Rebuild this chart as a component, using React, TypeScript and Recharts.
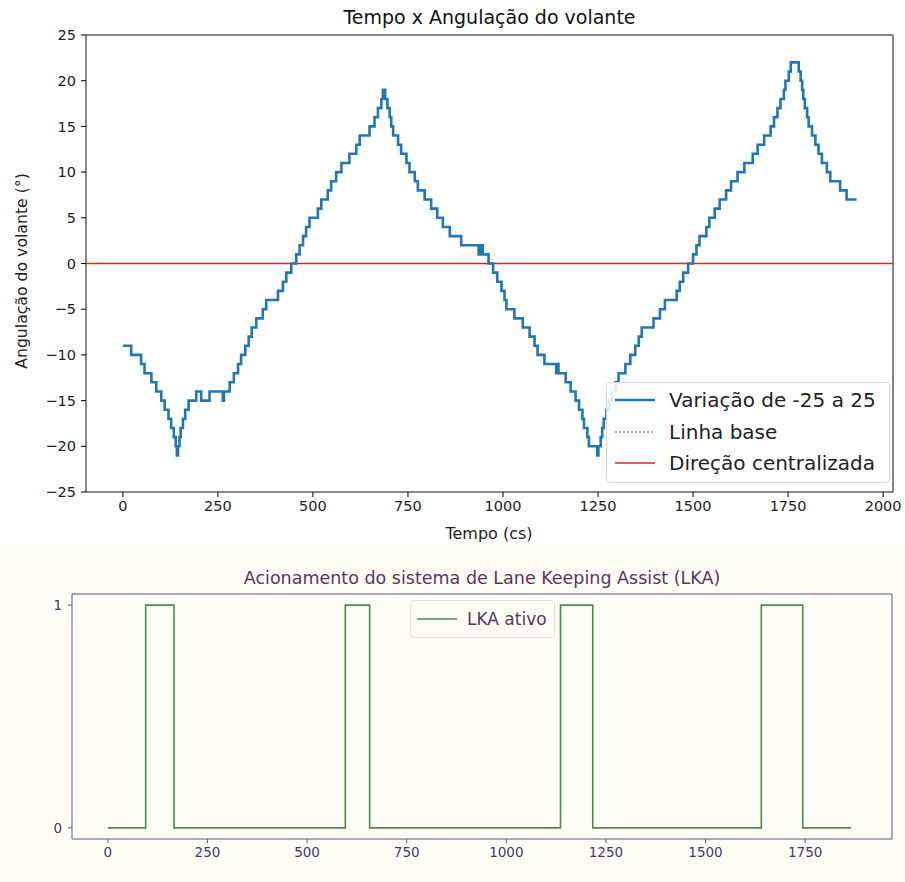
import { LineChart, Line, XAxis, YAxis, ReferenceLine, ReferenceArea } from "recharts";

// steering angle (degrees) – step changes, time in cs
const angleTimes = [
  0, 22, 48, 57, 75, 88, 101, 110, 120, 127, 134, 139, 142, 145, 149, 152, 158, 164, 173, 193,
  206, 228, 263, 266, 281, 292, 303, 311, 322, 331, 339, 351, 368, 377, 408, 421, 430, 443, 456,
  465, 474, 482, 491, 513, 522, 539, 548, 561, 575, 596, 614, 623, 649, 662, 671, 680, 684, 690,
  696, 702, 706, 711, 724, 732, 746, 754, 768, 776, 794, 811, 827, 842, 860, 890, 936, 941, 947,
  962, 974, 985, 996, 1004, 1009, 1030, 1052, 1070, 1083, 1091, 1109, 1140, 1143, 1146, 1165,
  1178, 1191, 1200, 1209, 1213, 1222, 1226, 1248, 1251, 1257, 1261, 1265, 1272, 1278, 1287, 1296,
  1304, 1322, 1335, 1348, 1357, 1365, 1396, 1413, 1426, 1457, 1465, 1474, 1487, 1500, 1509, 1517,
  1535, 1543, 1557, 1570, 1587, 1600, 1617, 1635, 1657, 1670, 1687, 1704, 1713, 1722, 1730, 1739,
  1743, 1752, 1757, 1778, 1783, 1787, 1790, 1794, 1800, 1804, 1813, 1822, 1830, 1839, 1852, 1861,
  1887, 1904, 1930,
];
const angleValues = [
  -9, -10, -11, -12, -13, -14, -15, -16, -17, -18, -19, -20, -21, -20, -19, -18, -17, -16, -15, -14,
  -15, -14, -15, -14, -13, -12, -11, -10, -9, -8, -7, -6, -5, -4, -3, -2, -1, 0, 1,
  2, 3, 4, 5, 6, 7, 8, 9, 10, 11, 12, 13, 14, 15, 16, 17, 18, 19, 18,
  17, 16, 15, 14, 13, 12, 11, 10, 9, 8, 7, 6, 5, 4, 3, 2, 1, 2, 1,
  0, -1, -2, -3, -4, -5, -6, -7, -8, -9, -10, -11, -12, -11, -12, -13,
  -14, -15, -16, -17, -18, -19, -20, -21, -20, -19, -18, -17, -16, -15, -14, -13,
  -12, -11, -10, -9, -8, -7, -6, -5, -4, -3, -2, -1, 0, 1, 2, 3,
  4, 5, 6, 7, 8, 9, 10, 11, 12, 13, 14, 15, 16, 17, 18, 19,
  20, 21, 22, 21, 20, 19, 18, 17, 16, 15, 14, 13, 12, 11, 10, 9,
  8, 7, 7,
];
const angleXTicks = [0, 250, 500, 750, 1000, 1250, 1500, 1750, 2000];
const angleYTicks = [-25, -20, -15, -10, -5, 0, 5, 10, 15, 20, 25];

// LKA on/off
const lkaTimes = [0, 95, 166, 596, 657, 1136, 1217, 1640, 1744, 1865];
const lkaValues = [0, 1, 0, 1, 0, 1, 0, 1, 0, 0];
const lkaXTicks = [0, 250, 500, 750, 1000, 1250, 1500, 1750];
const lkaYTicks = [0, 1];

const FONT = "'DejaVu Sans', sans-serif";
const minus = (v: number) => String(v).replace("-", "\u2212");

const angleData = angleTimes.map((t, i) => ({ t, v: angleValues[i] }));
const lkaData = lkaTimes.map((t, i) => ({ t, on: lkaValues[i] }));

function AngleChart() {
  return (
    <div style={{ position: "absolute", left: 0, top: 0, width: 905, height: 545, background: "#fff" }}>
      <div style={{ position: "absolute", top: 6, left: 86, width: 807, textAlign: "center", fontSize: 19, color: "#111" }}>
        Tempo x Angulação do volante
      </div>
      <LineChart width={905} height={545} data={angleData} margin={{ top: 35, right: 12, bottom: 0, left: 0 }}>
        <XAxis
          dataKey="t"
          type="number"
          domain={[-97, 2026]}
          ticks={angleXTicks}
          interval={0}
          allowDataOverflow
          height={53}
          axisLine={false}
          tickSize={5}
          tickMargin={4}
          tick={{ fill: "#222", fontSize: 14.5, fontFamily: FONT }}
          tickLine={{ stroke: "#000" }}
          label={() => (
            <text x={489} y={539} textAnchor="middle" fontSize={16} fontFamily={FONT} fill="#222">
              Tempo (cs)
            </text>
          )}
        />
        <YAxis
          type="number"
          domain={[-25, 25]}
          ticks={angleYTicks}
          interval={0}
          allowDataOverflow
          width={86}
          axisLine={false}
          tickSize={5}
          tickMargin={5}
          tickFormatter={minus}
          tick={{ fill: "#222", fontSize: 14.5, fontFamily: FONT }}
          tickLine={{ stroke: "#000" }}
          label={() => (
            <text x={27} y={271} transform="rotate(-90, 27, 271)" textAnchor="middle" fontSize={15.7} fontFamily={FONT} fill="#222">
              Angulação do volante (°)
            </text>
          )}
        />
        <ReferenceLine y={0} stroke="#000" strokeWidth={0.7} strokeDasharray="2 2" />
        <ReferenceLine y={0} stroke="#d62728" strokeWidth={1.6} />
        <Line dataKey="v" type="stepAfter" stroke="#1f77b4" strokeWidth={2.6} dot={false} isAnimationActive={false} />
        <ReferenceArea x1={-97} x2={2026} y1={-25} y2={25} fill="none" stroke="#111" strokeWidth={1} />
      </LineChart>
      <div
        style={{
          position: "absolute", left: 606, top: 382, width: 284, height: 101, boxSizing: "border-box",
          border: "1px solid #d6d6d6", borderRadius: 4, background: "rgba(255,255,255,0.85)",
          fontFamily: FONT, fontSize: 20, color: "#222",
        }}
      >
        {[
          { name: "Variação de -25 a 25", color: "#1f77b4", w: 2.6, dash: undefined },
          { name: "Linha base", color: "#333", w: 0.8, dash: "2 2" },
          { name: "Direção centralizada", color: "#d62728", w: 1.6, dash: undefined },
        ].map((e, i) => (
          <div key={i} style={{ position: "absolute", left: 8, top: 2 + i * 31.5, height: 30, display: "flex", alignItems: "center" }}>
            <svg width={40} height={10} style={{ marginRight: 14 }}>
              <line x1={0} x2={40} y1={5} y2={5} stroke={e.color} strokeWidth={e.w} strokeDasharray={e.dash} />
            </svg>
            <span style={{ whiteSpace: "nowrap" }}>{e.name}</span>
          </div>
        ))}
      </div>
    </div>
  );
}

function LkaChart() {
  const purple = "#5a3560";
  const axisCol = "#5d5480";
  return (
    <div style={{ position: "absolute", left: 0, top: 545, width: 905, height: 337, background: "#fdfdf5" }}>
      <div style={{ position: "absolute", top: 23, left: 72, width: 820, textAlign: "center", fontSize: 17.5, color: purple, fontFamily: FONT }}>
        Acionamento do sistema de Lane Keeping Assist (LKA)
      </div>
      <LineChart width={905} height={337} data={lkaData} margin={{ top: 49, right: 13, bottom: 0, left: 0 }}>
        <XAxis
          dataKey="t"
          type="number"
          domain={[-90, 1968]}
          ticks={lkaXTicks}
          interval={0}
          allowDataOverflow
          height={43}
          axisLine={false}
          tickSize={4}
          tickMargin={4}
          tick={{ fill: "#3e3a6e", fontSize: 13.5, fontFamily: FONT }}
          tickLine={{ stroke: axisCol }}
        />
        <YAxis
          type="number"
          domain={[-0.05, 1.05]}
          ticks={lkaYTicks}
          interval={0}
          allowDataOverflow
          width={72}
          axisLine={false}
          tickSize={4}
          tickMargin={6}
          tick={{ fill: "#3e3a6e", fontSize: 13.5, fontFamily: FONT }}
          tickLine={{ stroke: axisCol }}
        />
        <Line dataKey="on" type="stepAfter" stroke="#4d8a4d" strokeWidth={1.6} dot={false} isAnimationActive={false} />
        <ReferenceArea x1={-90} x2={1968} y1={-0.05} y2={1.05} fill="none" stroke={axisCol} strokeWidth={1} />
      </LineChart>
      <div
        style={{
          position: "absolute", left: 410, top: 55, width: 145, height: 38, boxSizing: "border-box",
          border: "1px solid #e2e0da", borderRadius: 4, background: "rgba(253,253,245,0.85)",
          fontFamily: FONT, fontSize: 17, color: purple, display: "flex", alignItems: "center",
        }}
      >
        <svg width={40} height={10} style={{ marginLeft: 6, marginRight: 10 }}>
          <line x1={0} x2={40} y1={5} y2={5} stroke="#4d8a4d" strokeWidth={1.6} />
        </svg>
        <span>LKA ativo</span>
      </div>
    </div>
  );
}

export default function App() {
  return (
    <div style={{ position: "absolute", left: 0, top: 0, width: 905, height: 882, fontFamily: FONT, background: "#fff" }}>
      <AngleChart />
      <LkaChart />
    </div>
  );
}
